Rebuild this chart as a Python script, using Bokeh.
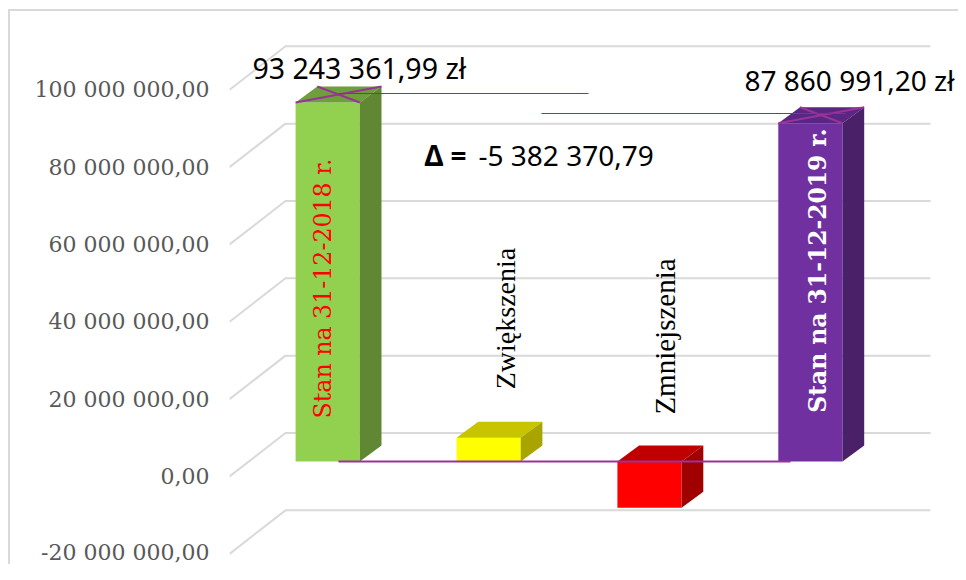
from bokeh.plotting import figure
from bokeh.models import Range1d, LinearAxis, FixedTicker
from bokeh.embed import file_html
from bokeh.resources import INLINE
from bokeh.core.properties import value
import math

categories = ["Stan na 31-12-2018 r.", "Zwiększenia", "Zmniejszenia", "Stan na 31-12-2019 r."]
values = [93243361.99, 6160000, -12000000, 87860991.20]
ticks = [-20000000, 0, 20000000, 40000000, 60000000, 80000000, 100000000]
tick_labels = ["-20 000 000,00", "0,00", "20 000 000,00", "40 000 000,00",
               "60 000 000,00", "80 000 000,00", "100 000 000,00"]
front_colors = ["#92d050", "#ffff00", "#ff0000", "#7030a0"]
top_colors = ["#6f9e3c", "#c8c400", "#c00000", "#5a2683"]
side_colors = ["#5f8734", "#a8a400", "#a00000", "#4a2068"]
value_labels = ["93 243 361,99 zł", "87 860 991,20 zł"]
delta_symbol = "Δ ="
delta_value = "-5 382 370,79"

W, H = 958, 564
OFF = 0
LEFT = 229
X0, DX = 327.2, 160.9          # image px of first category, px per category
def xd(px): return (px - X0) / DX
PX_AXIS = 3.867 / 1e6
PX_BAR = 3.85 / 1e6
def ya(py): return (476 - py) / PX_AXIS
def yb(py): return (461 - py) / PX_BAR

p = figure(width=W, height=H, output_backend="svg", toolbar_location=None,
           x_range=Range1d(xd(OFF + LEFT), xd(OFF + W)),
           y_range=Range1d(ya(OFF + H), ya(OFF)),
           x_axis_type=None, y_axis_type=None,
           min_border_left=LEFT, min_border_right=0, min_border_top=0, min_border_bottom=0,
           background_fill_color=None, border_fill_color=None, outline_line_color=None)
p.grid.visible = False
p.extra_y_ranges = {"bars": Range1d(yb(OFF + H), yb(OFF))}
p.styles = {"background":
            "linear-gradient(#d9d9d9,#d9d9d9) 8px 9px/100% 2px no-repeat,"
            "linear-gradient(#d9d9d9,#d9d9d9) 8px 9px/2px 100% no-repeat"}

ax = LinearAxis(ticker=FixedTicker(ticks=ticks),
                major_label_overrides=dict(zip(ticks, tick_labels)),
                axis_line_color=None, major_tick_line_color=None, minor_tick_line_color=None,
                major_label_standoff=14, major_label_orientation="horizontal",
                major_label_text_font="DejaVu Serif", major_label_text_font_size="22px",
                major_label_text_color="#595959")
p.add_layout(ax, "left")

# walls / gridlines
rise = 43.5 * 1 / 3.867 * 1e6
gx = [xd(229), xd(285), xd(930)]
p.multi_line([gx for _ in ticks], [[t, t + rise, t + rise] for t in ticks],
             line_color="#d9d9d9", line_width=2)

# boxes
half = 32.1 / DX
ddx = 21.7 / DX
ddy = 16 / 3.85 * 1e6
for i, v in enumerate(values):
    l, r = i - half, i + half
    t = max(v, 0)
    b = min(v, 0)
    p.vbar(x=[i], width=2 * half, top=[t], bottom=[b], fill_color=front_colors[i],
           line_color=None, y_range_name="bars")
    p.patch([l, r, r + ddx, l + ddx], [t, t, t + ddy, t + ddy], fill_color=top_colors[i],
            line_color=None, y_range_name="bars")
    p.patch([r, r + ddx, r + ddx, r], [b, b + ddy, t + ddy, t], fill_color=side_colors[i],
            line_color=None, y_range_name="bars")

# crosses on the two totals
for i in (0, 3):
    v = values[i]
    l, r = i - half, i + half
    p.line([l, r + ddx], [v, v + ddy], line_color="#993399", line_width=2, y_range_name="bars")
    p.line([l + ddx, r], [v + ddy, v], line_color="#993399", line_width=2, y_range_name="bars")

# zero line and connectors
p.line([xd(338), xd(790)], [0, 0], line_color="#993399", line_width=2, y_range_name="bars")
p.line([xd(338), xd(588)], [yb(93), yb(93)], line_color="#e8112d", line_width=1, y_range_name="bars")
p.line([xd(541), xd(845)], [yb(113), yb(113)], line_color="#e8112d", line_width=1, y_range_name="bars")

# vertical labels
def vlabel(px, py, txt, color, style, size, font):
    p.text([xd(px)], [yb(py)], text=[txt], text_color=color, angle=math.pi / 2,
           text_align="center", text_baseline="middle", text_font=value(font),
           text_font_style=style, text_font_size=size, y_range_name="bars")
vlabel(322, 288, categories[0], "#ff0000", "normal", "23.7px", "DejaVu Serif")
vlabel(505, 318, categories[1], "#000000", "normal", "28px", "Liberation Serif")
vlabel(664, 336, categories[2], "#000000", "normal", "29px", "Liberation Serif")
vlabel(817, 270, categories[3], "#ffffff", "bold", "23.4px", "DejaVu Serif")

# value labels
def hlabel(px, py, txt, style="normal", size="28.5px"):
    p.text([xd(px)], [yb(py)], text=[txt], text_color="#000000", text_align="left",
           text_baseline="middle", text_font=value("Noto Sans"), text_font_style=style,
           text_font_size=size, y_range_name="bars")
hlabel(252, 67, value_labels[0])
hlabel(744, 79, value_labels[1], "normal", "28px")
hlabel(424, 154, delta_symbol, "bold", "28px")
hlabel(478, 154, delta_value, "normal", "28px")

open("out.html", "w").write(file_html(p, INLINE))
